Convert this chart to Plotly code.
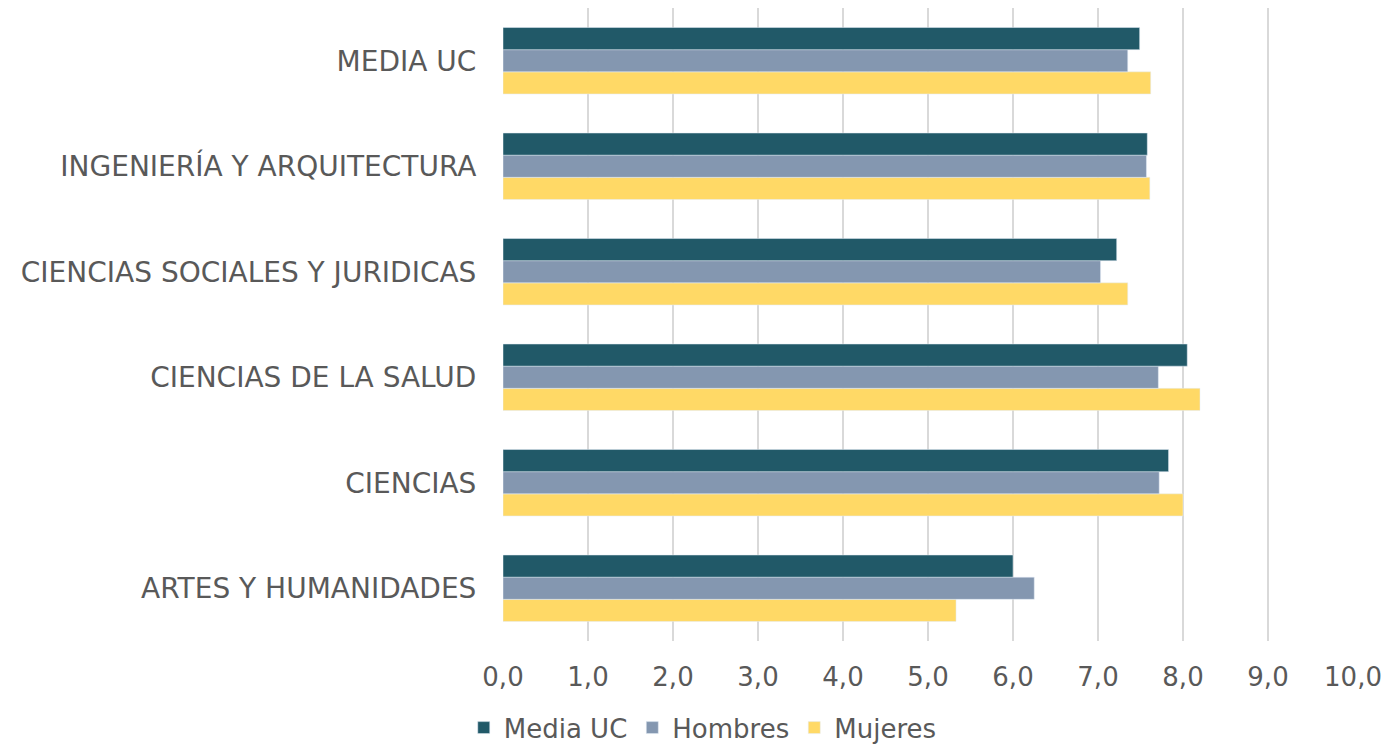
import plotly.graph_objects as go

categories = ["ARTES Y HUMANIDADES", "CIENCIAS", "CIENCIAS DE LA SALUD",
              "CIENCIAS SOCIALES Y JURIDICAS", "INGENIERÍA Y ARQUITECTURA", "MEDIA UC"]
media_uc = [6.00, 7.83, 8.05, 7.22, 7.58, 7.49]
hombres = [6.25, 7.72, 7.71, 7.03, 7.57, 7.35]
mujeres = [5.33, 8.00, 8.20, 7.35, 7.61, 7.62]
x_ticks = [0, 1, 2, 3, 4, 5, 6, 7, 8, 9, 10]

font_family = "DejaVu Sans, Verdana, sans-serif"
grey = "#595959"

fig = go.Figure()
fig.add_trace(go.Bar(y=categories, x=mujeres, name="Mujeres", orientation="h",
                     marker=dict(color="#FFD966")))
fig.add_trace(go.Bar(y=categories, x=hombres, name="Hombres", orientation="h",
                     marker=dict(color="#8497B0")))
fig.add_trace(go.Bar(y=categories, x=media_uc, name="Media UC", orientation="h",
                     marker=dict(color="#215968")))

fig.update_layout(
    width=1381, height=738,
    barmode="group", bargap=0.37, bargroupgap=0,
    separators=",.",
    paper_bgcolor="white", plot_bgcolor="white",
    margin=dict(l=495, r=36, t=0, b=105, autoexpand=False),
    font=dict(family=font_family, color=grey, size=26),
    legend=dict(orientation="h", traceorder="reversed", x=0.235, xanchor="center",
                y=-0.137, yanchor="middle", font=dict(size=26, color=grey),
                itemwidth=30),
    xaxis=dict(range=[0, 10], tickvals=x_ticks, tickformat=".1f",
               showgrid=True, gridcolor="#D9D9D9", gridwidth=2,
               zeroline=False, showline=False, automargin=False,
               ticks="outside", ticklen=13, tickcolor="rgba(0,0,0,0)",
               tickfont=dict(size=26, color=grey)),
    yaxis=dict(categoryorder="array", categoryarray=categories,
               showgrid=False, zeroline=False, showline=False, automargin=False,
               ticks="outside", ticklen=20, tickcolor="rgba(0,0,0,0)",
               tickfont=dict(size=28, color=grey)),
)

fig.write_html("out.html")
